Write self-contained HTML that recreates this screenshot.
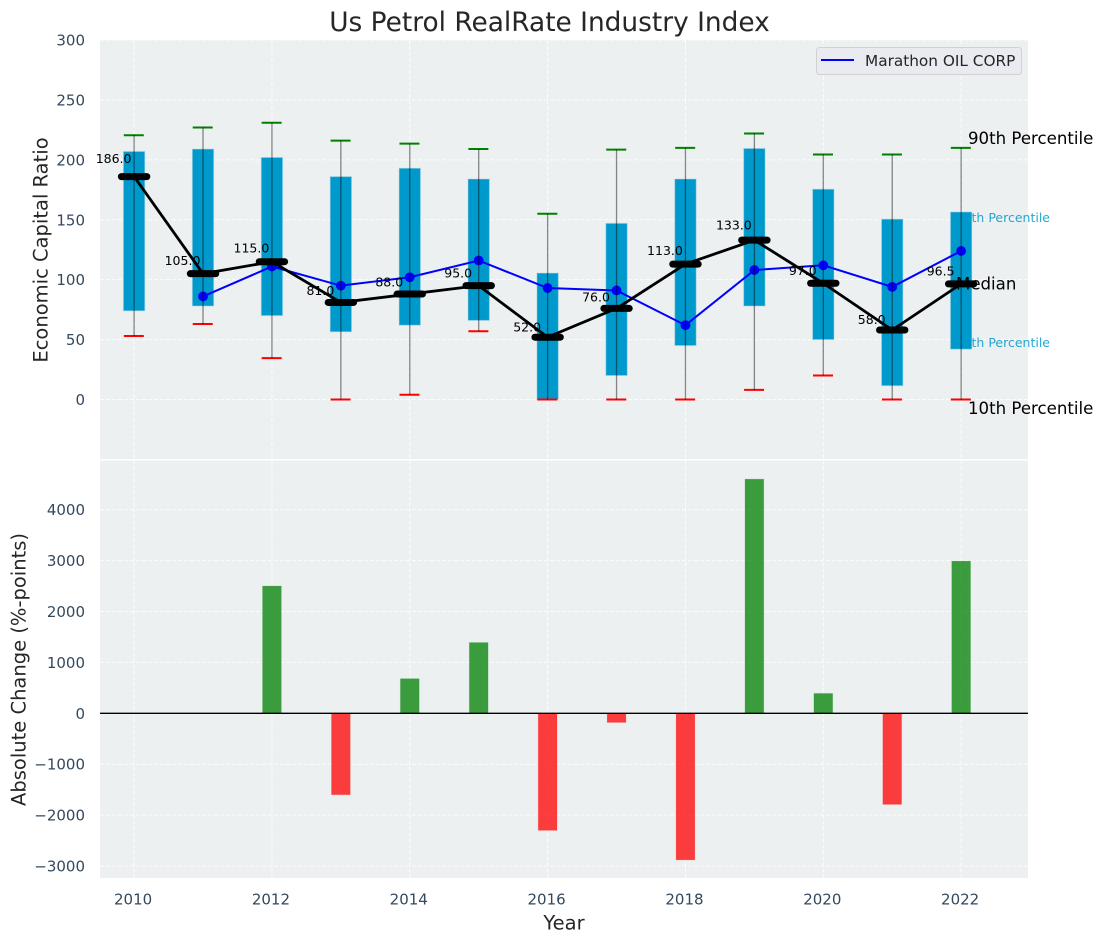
<!DOCTYPE html>
<html lang="en">
<head>
<meta charset="utf-8">
<title>Us Petrol RealRate Industry Index</title>
<style>
html,body{margin:0;padding:0;background:#fff;width:1103px;height:942px;overflow:hidden}
svg{display:block}
text{font-family:"DejaVu Sans","Liberation Sans",sans-serif}
</style>
</head>
<body>
<svg id="chart" xmlns="http://www.w3.org/2000/svg" width="1103" height="942" viewBox="0 0 1103 942">
  <rect x="100" y="40" width="928" height="419" fill="#ecf0f1"/>
  <rect x="100" y="460.5" width="928" height="417.5" fill="#ecf0f1"/>
  <g id="grid"></g>
  <text x="1050" y="222" text-anchor="end" font-size="12.5" fill="#0099cc" opacity="0.85">75th Percentile</text>
  <text x="1050" y="347" text-anchor="end" font-size="12.5" fill="#0099cc" opacity="0.85">25th Percentile</text>
  <g id="marks-top"></g>
  <g id="marks-bottom"></g>
  <line x1="100" x2="1028" y1="713.3" y2="713.3" stroke="#000" stroke-width="1.4"/>
  <g id="ticks"></g>
  <text x="549.5" y="31" text-anchor="middle" font-size="26.4" fill="#262626">Us Petrol RealRate Industry Index</text>
  <text transform="translate(47.5,250) rotate(-90)" text-anchor="middle" font-size="19.5" fill="#262626">Economic Capital Ratio</text>
  <text transform="translate(25.5,669.5) rotate(-90)" text-anchor="middle" font-size="19.5" fill="#262626">Absolute Change (%-points)</text>
  <text x="564" y="929.5" text-anchor="middle" font-size="19.5" fill="#262626">Year</text>
  <text x="968" y="144" font-size="16.6" fill="#000">90th Percentile</text>
  <text x="956" y="289.5" font-size="16.6" fill="#000">Median</text>
  <text x="968" y="414" font-size="16.6" fill="#000">10th Percentile</text>
  <g>
    <rect x="816.5" y="47.5" width="205" height="27" rx="3" fill="#e9ebf0" stroke="#cfd1d4" stroke-width="1"/>
    <line x1="821" x2="854" y1="60" y2="60" stroke="#0000ff" stroke-width="2"/>
    <text x="865" y="66" font-size="15.3" fill="#262626">Marathon OIL CORP</text>
  </g>
</svg>
<script>
const years = [2010,2011,2012,2013,2014,2015,2016,2017,2018,2019,2020,2021,2022];
const p90 = [220.5,227,231,216,213.5,209,155,208.5,210,222,204.5,204.5,210];
const p75 = [207,209,202,186,193,184,105.5,147,184,209.5,175.5,150.5,156.5];
const p25 = [74,78,70,56.5,62,66,0,20,45,78,50,11.5,42];
const p10 = [53,63,34.5,0,4,57,0,0,0,8,20,0,0];
const medians = [186,105,115,81,88,95,52,76,113,133,97,58,96.5];
const company = [null,86,111,95,102,116,93,91,62,108,112,94,124];
const changes = [0,0,2500,-1600,680,1390,-2300,-180,-2880,4600,390,-1790,2990];
const xTicks = [2010,2012,2014,2016,2018,2020,2022];
const topTicks = [0,50,100,150,200,250,300];
const bottomTicks = [-3000,-2000,-1000,0,1000,2000,3000,4000];

const NS = 'http://www.w3.org/2000/svg';
const x = v => 134.1 + (v - 2010) * 68.92;
const yTop = v => 399.5 - v * 1.1983;
const yBottom = v => 713.3 - v * 0.0509;

function el(parent, tag, props, text) {
  const n = document.createElementNS(NS, tag);
  for (const k in props) n.setAttribute(k, props[k]);
  if (text !== undefined) n.textContent = text;
  parent.appendChild(n);
  return n;
}
const grid = document.getElementById('grid');
const top_ = document.getElementById('marks-top');
const bottom = document.getElementById('marks-bottom');
const ticks = document.getElementById('ticks');
const dash = {stroke:'#fff','stroke-width':1,'stroke-dasharray':'4 2',opacity:0.85};

xTicks.forEach(t => {
  [[40,459],[460.5,878]].forEach(r => {
    const g = el(grid,'line',Object.assign({x1:x(t),x2:x(t),y1:r[0],y2:r[1]},dash));
    
    
  });
  const l = el(ticks,'text',{x:x(t)-1,y:904.5,'text-anchor':'middle','font-size':15,fill:'#34495e'},String(t));
  
  
});
topTicks.forEach(t => {
  const g = el(grid,'line',Object.assign({x1:100,x2:1028,y1:yTop(t),y2:yTop(t)},dash));
  
  
  const l = el(ticks,'text',{x:85,y:yTop(t)+5.5,'text-anchor':'end','font-size':15,fill:'#34495e'},String(t));
  
  
});
bottomTicks.forEach(t => {
  const g = el(grid,'line',Object.assign({x1:100,x2:1028,y1:yBottom(t),y2:yBottom(t)},dash));
  
  
  const l = el(ticks,'text',{x:85,y:yBottom(t)+5.5,'text-anchor':'end','font-size':15,fill:'#34495e'},String(t).replace('-','\u2212'));
  
  
});

years.forEach((yr,i) => {
  const cx = x(yr);
  const box = el(top_,'rect',{x:cx-10.7,y:yTop(p75[i]),width:21.4,height:yTop(p25[i])-yTop(p75[i]),fill:'#0099cc',stroke:'#add8e6','stroke-opacity':0.5,'stroke-width':1});
  
  
  const hi = el(top_,'line',{x1:cx-10.3,x2:cx+9.7,y1:yTop(p90[i]),y2:yTop(p90[i]),stroke:'#008000','stroke-width':2});
  
  
  const lo = el(top_,'line',{x1:cx-10.3,x2:cx+9.7,y1:yTop(p10[i]),y2:yTop(p10[i]),stroke:'#ff0000','stroke-width':2});
  
  
});

const pts = years.map((yr,i)=>company[i]===null?null:[x(yr),yTop(company[i])]).filter(Boolean);
const companyLine = el(top_,'polyline',{points:pts.map(p=>p.join(',')).join(' '),fill:'none',stroke:'#0000ff','stroke-width':2});


pts.forEach(p => {
  const c = el(top_,'circle',{cx:p[0],cy:p[1],r:4.9,fill:'#0000ff'});
  
  
});

years.forEach((yr,i) => {
  const cx = x(yr);
  const w = el(top_,'line',{x1:cx,x2:cx,y1:yTop(p90[i]),y2:yTop(p10[i]),stroke:'#000','stroke-opacity':0.45,'stroke-width':1.3});
  
  
});

const medianLine = el(top_,'polyline',{points:years.map((yr,i)=>x(yr)+','+yTop(medians[i])).join(' '),fill:'none',stroke:'#000','stroke-width':2.8});


years.forEach((yr,i) => {
  const cx = x(yr), cy = yTop(medians[i]);
  const m = el(top_,'line',{x1:cx-12.7,x2:cx+12.7,y1:cy,y2:cy,stroke:'#000','stroke-width':7,'stroke-linecap':'round'});
  
  
  const t = el(top_,'text',{x:cx-20.5,y:yTop(medians[i]*1.05)-2.5,'text-anchor':'middle','font-size':12.5,fill:'#000'},medians[i].toFixed(1));
  
  
});

years.forEach((yr,i) => {
  if (!changes[i]) return;
  const y0 = yBottom(Math.max(changes[i],0)), y1 = yBottom(Math.min(changes[i],0));
  const col = changes[i] > 0 ? '#008000' : '#ff0000';
  const b = el(bottom,'rect',{x:x(yr)-9.4,y:y0,width:18.8,height:y1-y0,fill:col,'fill-opacity':0.75,stroke:col,'stroke-opacity':0.12,'stroke-width':1});
  
  
});
</script>
</body>
</html>
